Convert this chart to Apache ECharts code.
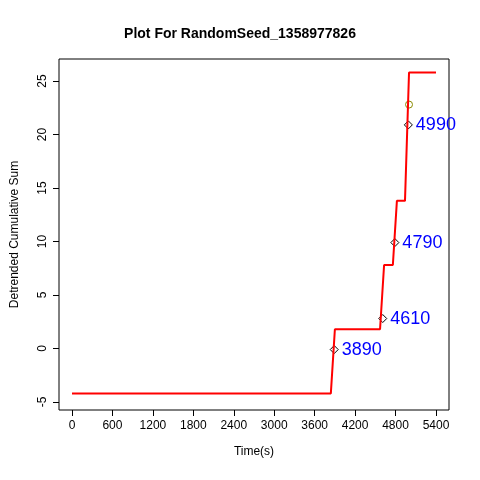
<!DOCTYPE html>
<html>
<head>
<meta charset="utf-8">
<script src="https://cdn.jsdelivr.net/npm/echarts@6/dist/echarts.min.js"></script>
<style>html,body{margin:0;padding:0;background:#fff}</style>
</head>
<body>
<div id="chart" style="width:480px;height:480px"></div>
<script>
// step line of the detrended cumulative sum
const lineTimes = [0, 3840, 3900, 4570, 4630, 4760, 4820, 4940, 5000, 5400];
const lineValues = [-4.2, -4.2, 1.8, 1.8, 7.8, 7.8, 13.8, 13.8, 25.8, 25.8];
// marked change points
const markTimes = [3890, 4610, 4790, 4990];
const markValues = [-0.1, 2.8, 9.9, 20.9];
const markLabels = ["3890", "4610", "4790", "4990"];
const circlePoint = [5000, 22.8];
const xTicks = [0, 600, 1200, 1800, 2400, 3000, 3600, 4200, 4800, 5400];
const yTicks = [-5, 0, 5, 10, 15, 20, 25];

const chart = echarts.init(document.getElementById("chart"));
const font = "Liberation Sans";
chart.setOption({
  animation: false,
  title: {
    text: "Plot For RandomSeed_1358977826",
    left: "center", top: 22,
    textStyle: { fontFamily: font, fontSize: 14, fontWeight: "bold", color: "#000" }
  },
  grid: { left: 59, right: 31, top: 59, bottom: 70 },
  xAxis: {
    type: "value", min: -193, max: 5593,
    name: "Time(s)", nameLocation: "middle", nameGap: 36,
    nameTextStyle: { fontFamily: font, fontSize: 12, color: "#000" },
    axisLine: { show: false, onZero: false },
    axisTick: { show: true, length: 6, customValues: xTicks, lineStyle: { color: "#000" } },
    axisLabel: { customValues: xTicks, formatter: v => String(v), fontFamily: font, fontSize: 12, color: "#000", margin: 10 },
    splitLine: { show: false }
  },
  yAxis: {
    type: "value", min: -5.75, max: 27.06,
    name: "Detrended Cumulative Sum", nameLocation: "middle", nameGap: 38,
    nameTextStyle: { fontFamily: font, fontSize: 12, color: "#000" },
    axisLine: { show: false, onZero: false },
    axisTick: { show: true, length: 6, customValues: yTicks, lineStyle: { color: "#000" } },
    axisLabel: { customValues: yTicks, formatter: v => String(v), rotate: 90, fontFamily: font, fontSize: 12, color: "#000", margin: 10 },
    splitLine: { show: false }
  },
  series: [
    {
      type: "line", symbol: "none",
      data: lineTimes.map((t, i) => [t, lineValues[i]]),
      lineStyle: { color: "#ff0000", width: 2 }
    },
    {
      type: "scatter", symbol: "diamond", symbolSize: 8,
      data: markTimes.map((t, i) => [t, markValues[i]]),
      itemStyle: { color: "rgba(0,0,0,0)", borderColor: "#000", borderWidth: 1, opacity: 1 },
      label: {
        show: true, position: "right", distance: 3,
        formatter: p => markLabels[p.dataIndex],
        fontFamily: font, fontSize: 18, color: "#0000ff", opacity: 1
      }
    },
    {
      type: "scatter", symbol: "circle", symbolSize: 7,
      data: [circlePoint],
      itemStyle: { color: "rgba(0,0,0,0)", borderColor: "#8a8a00", borderWidth: 1, opacity: 1 }
    }
  ],
  graphic: [{
    type: "rect", shape: { x: 59, y: 59, width: 390, height: 351 },
    style: { fill: "none", stroke: "#000", lineWidth: 1 }, silent: true
  }]
});
</script>
</body>
</html>
